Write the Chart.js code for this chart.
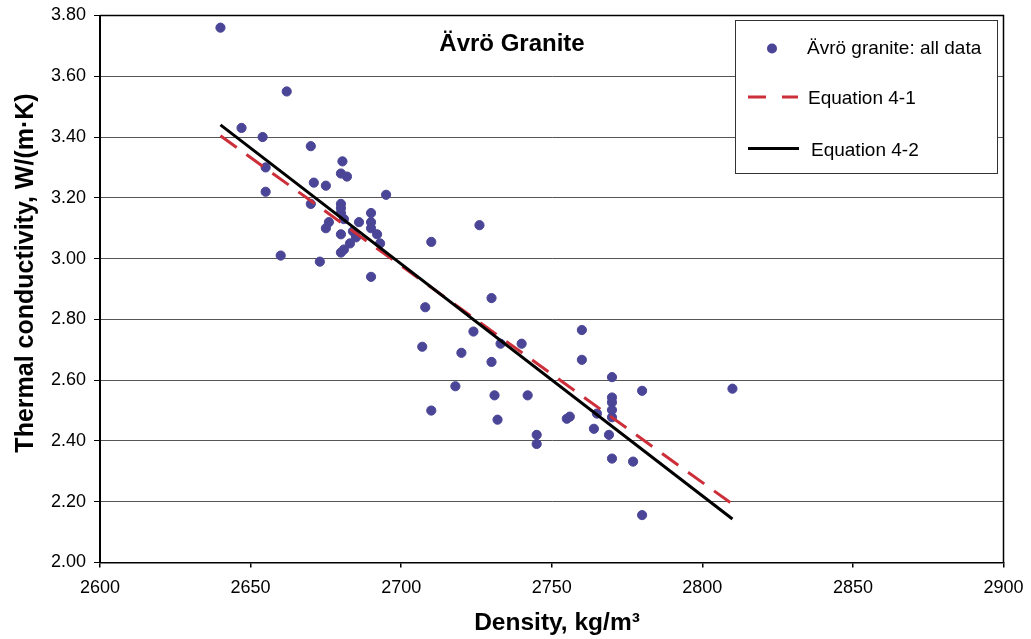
<!DOCTYPE html>
<html>
<head>
<meta charset="utf-8">
<script src="https://cdn.jsdelivr.net/npm/chart.js@4.4.1/dist/chart.umd.min.js"></script>
<style>
  html, body { margin: 0; padding: 0; background: #fff; }
  #wrap { width: 1031px; height: 639px; position: relative; }
</style>
</head>
<body>
<div id="wrap"><canvas id="c" width="1031" height="639"></canvas></div>
<script>
// ---- Data ----
const density = [
  2640, 2662, 2647, 2654, 2670, 2655, 2680.5, 2680, 2682, 2671,
  2675, 2695, 2655, 2670, 2680, 2680, 2680, 2690, 2676, 2675,
  2681, 2686, 2690, 2690, 2692, 2680, 2684, 2685, 2683, 2693,
  2681, 2680, 2710, 2660, 2673, 2690, 2726, 2708, 2730, 2724,
  2707, 2720, 2733, 2740, 2730, 2760, 2760, 2718, 2710, 2731,
  2742, 2732, 2755, 2756, 2764, 2765, 2745, 2745, 2770, 2780,
  2810, 2770, 2770, 2770, 2770, 2769, 2770, 2777, 2780
];
const conductivity = [
  3.76, 3.55, 3.43, 3.40, 3.37, 3.30, 3.32, 3.28, 3.27, 3.25,
  3.24, 3.21, 3.22, 3.18, 3.18, 3.166, 3.15, 3.15, 3.12, 3.10,
  3.13, 3.12, 3.12, 3.10, 3.08, 3.08, 3.09, 3.07, 3.05, 3.05,
  3.03, 3.02, 3.055, 3.01, 2.99, 2.94, 3.11, 2.84, 2.87, 2.76,
  2.71, 2.69, 2.72, 2.72, 2.66, 2.765, 2.667, 2.58, 2.50, 2.55,
  2.55, 2.47, 2.473, 2.48, 2.44, 2.49, 2.42, 2.39, 2.61, 2.565,
  2.572, 2.543, 2.527, 2.502, 2.478, 2.42, 2.342, 2.332, 2.156
];
const eqDensity = [2640, 2810];
const eq41 = [3.404, 2.192];
const eq42 = [3.440, 2.143];

const xTicks = [2600, 2650, 2700, 2750, 2800, 2850, 2900];
const yTicks = [2.0, 2.2, 2.4, 2.6, 2.8, 3.0, 3.2, 3.4, 3.6, 3.8];

const seriesNames = ['Ävrö granite: all data', 'Equation 4-1', 'Equation 4-2'];
const chartTitle = 'Ävrö Granite';
const xTitle = 'Density, kg/m³';
const yTitle = 'Thermal conductivity, W/(m·K)';

const FONT = '"Liberation Sans", Arial, Helvetica, sans-serif';
const pointColor = '#4a4596';
const redColor = '#cc2f3a';

const toXY = (xs, ys) => xs.map((x, i) => ({ x: x, y: ys[i] }));

// ---- Decorations plugin: frame, titles, legend ----
const decor = {
  id: 'decor',
  beforeDatasetsDraw(chart) {
    const { ctx, chartArea: a } = chart;
    ctx.save();
    ctx.strokeStyle = '#000';
    ctx.lineWidth = 1.5;
    ctx.beginPath();
    ctx.moveTo(a.left, a.top);
    ctx.lineTo(a.right, a.top);
    ctx.lineTo(a.right, a.bottom);
    ctx.stroke();
    ctx.restore();
  },
  afterDraw(chart) {
    const { ctx } = chart;
    ctx.save();
    // chart title
    ctx.fillStyle = '#000';
    ctx.font = 'bold 24px ' + FONT;
    ctx.textAlign = 'center';
    ctx.textBaseline = 'alphabetic';
    ctx.fillText(chartTitle, 512, 51);
    // x title
    ctx.font = 'bold 24.5px ' + FONT;
    ctx.fillText(xTitle, 557, 630);
    // y title
    ctx.save();
    ctx.translate(33, 273);
    ctx.rotate(-Math.PI / 2);
    ctx.font = 'bold 25px ' + FONT;
    ctx.fillText(yTitle, 0, 0);
    ctx.restore();

    // legend box
    const ds = chart.data.datasets;
    ctx.fillStyle = '#fff';
    ctx.fillRect(735, 20, 263, 153);
    ctx.strokeStyle = '#333';
    ctx.lineWidth = 1;
    ctx.strokeRect(735.5, 20.5, 262, 153);
    ctx.font = '19px ' + FONT;
    ctx.textAlign = 'left';
    ctx.fillStyle = '#000';
    // item 1: marker
    ctx.beginPath();
    ctx.arc(772, 48.5, 5, 0, Math.PI * 2);
    ctx.fillStyle = ds[0].backgroundColor;
    ctx.fill();
    ctx.fillStyle = '#000';
    ctx.fillText(ds[0].label, 807, 54);
    // item 2: dashed line
    ctx.beginPath();
    ctx.setLineDash([18, 16]);
    ctx.strokeStyle = ds[1].borderColor;
    ctx.lineWidth = 3;
    ctx.moveTo(748, 97);
    ctx.lineTo(798, 97);
    ctx.stroke();
    ctx.setLineDash([]);
    ctx.fillText(ds[1].label, 808, 104);
    // item 3: solid line
    ctx.beginPath();
    ctx.strokeStyle = ds[2].borderColor;
    ctx.lineWidth = 3;
    ctx.moveTo(748, 148.5);
    ctx.lineTo(799, 148.5);
    ctx.stroke();
    ctx.fillText(ds[2].label, 811, 156);
    ctx.restore();
  }
};

new Chart(document.getElementById('c'), {
  type: 'scatter',
  data: {
    datasets: [
      {
        label: seriesNames[0],
        data: toXY(density, conductivity),
        backgroundColor: pointColor,
        borderColor: pointColor,
        borderWidth: 1,
        pointRadius: 4.6,
        order: 3
      },
      {
        label: seriesNames[1],
        type: 'line',
        data: toXY(eqDensity, eq41),
        borderColor: redColor,
        borderWidth: 3,
        borderDash: [20, 12],
        pointRadius: 0,
        fill: false,
        order: 2
      },
      {
        label: seriesNames[2],
        type: 'line',
        data: toXY(eqDensity, eq42),
        borderColor: '#000',
        borderWidth: 3,
        pointRadius: 0,
        fill: false,
        order: 1
      }
    ]
  },
  options: {
    responsive: false,
    animation: false,
    layout: { padding: { top: 15.5, right: 27.5, left: 0, bottom: 0 } },
    plugins: {
      legend: { display: false },
      tooltip: { enabled: false },
      title: { display: false }
    },
    scales: {
      x: {
        type: 'linear',
        min: 2600,
        max: 2900,
        afterFit(s) { s.height = 76.5; s.paddingLeft = 0; s.paddingRight = 0; },
        afterBuildTicks(s) { s.ticks = xTicks.map(v => ({ value: v })); },
        ticks: {
          color: '#000',
          font: { family: FONT, size: 18 },
          padding: 10,
          maxRotation: 0,
          callback: v => String(v)
        },
        grid: {
          display: true,
          drawOnChartArea: false,
          drawTicks: true,
          tickLength: 5,
          color: '#000',
          tickColor: '#000',
          lineWidth: 1.5
        },
        border: { display: true, color: '#000', width: 1.5 }
      },
      y: {
        type: 'linear',
        min: 2.0,
        max: 3.8,
        afterFit(s) { s.width = 100; s.paddingTop = 0; s.paddingBottom = 0; },
        afterBuildTicks(s) { s.ticks = yTicks.map(v => ({ value: v })); },
        ticks: {
          color: '#000',
          font: { family: FONT, size: 18 },
          padding: 8,
          callback: v => Number(v).toFixed(2)
        },
        grid: {
          display: true,
          drawOnChartArea: true,
          drawTicks: true,
          tickLength: 6,
          color: '#555',
          tickColor: '#000',
          lineWidth: 1
        },
        border: { display: true, color: '#000', width: 2 }
      }
    }
  },
  plugins: [decor]
});
</script>
</body>
</html>
